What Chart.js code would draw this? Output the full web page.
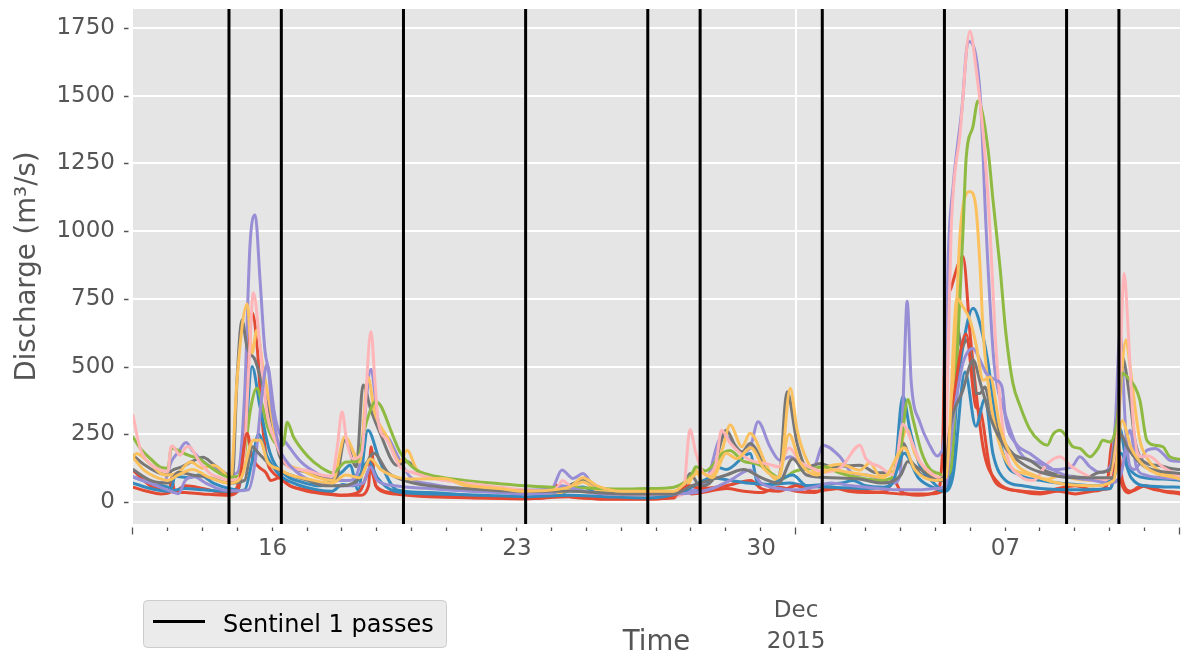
<!DOCTYPE html>
<html>
<head>
<meta charset="utf-8">
<script src="https://cdn.jsdelivr.net/npm/chart.js@4.4.0/dist/chart.umd.min.js"></script>
<style>
  html, body { margin: 0; padding: 0; background: #ffffff; }
  canvas { display: block; }
</style>
</head>
<body>
<canvas id="discharge" width="1181" height="654"></canvas>
<script>
// Time is counted in days from 12 Nov 2015 00:00; discharge in m3/s.

// Sentinel 1 overpass times (days)
const passDays = [2.75, 4.25, 7.75, 11.25, 14.75, 16.25, 19.75, 23.25, 26.75, 28.25];

// Axis ticks and labels
const yTickValues = [0, 250, 500, 750, 1000, 1250, 1500, 1750];
const xDayTicks = [0, 1, 2, 3, 4, 5, 6, 7, 8, 9, 10, 11, 12, 13, 14, 15, 16, 17, 18, 19, 20, 21, 22, 23, 24, 25, 26, 27, 28, 29, 30];
const dayLabelDays = [4, 11, 18, 25];
const dayLabels = ['16', '23', '30', '07'];
const monthStartDay = 19;
const monthLabel = ['Dec', '2015'];
const majorTickDays = [0, 19, 30];

// Discharge hydrographs, [day, m3/s]
const flowRed1 = [[0,55],[0.4,40],[0.8,30],[1.05,35],[1.1,90],[1.2,40],[1.5,60],[2.0,50],[2.5,35],[2.75,30],[3.0,60],[3.25,400],[3.41,700],[3.55,587],[3.7,300],[3.85,150],[4.0,110],[4.2,90],[4.5,60],[5.0,45],[5.5,35],[6.0,25],[6.5,25],[6.75,60],[6.82,204],[6.95,60],[7.5,35],[8.5,25],[9.5,18],[10.5,15],[11.2,12],[12.0,20],[12.12,62],[12.3,25],[13.5,12],[14.76,12],[15.5,15],[15.76,56],[16.0,30],[16.5,40],[17.0,50],[17.5,40],[18.0,35],[18.5,55],[19.0,40],[19.5,35],[20.0,55],[20.5,40],[21.0,35],[21.6,40],[21.78,84],[22.0,40],[22.5,25],[23.04,40],[23.2,200],[23.27,650],[23.44,790],[23.78,906],[24.0,600],[24.36,200],[24.73,80],[25.42,40],[26.0,30],[26.5,40],[27.0,30],[27.5,40],[27.9,60],[28.05,216],[28.2,222],[28.35,80],[28.6,40],[29.0,60],[29.5,40],[30,30]];
const flowBlue1 = [[0,93],[0.5,70],[1.0,55],[1.1,50],[1.2,95],[1.6,90],[1.9,100],[2.3,70],[2.75,50],[3.0,45],[3.2,200],[3.41,500],[3.64,351],[3.93,180],[4.36,100],[4.8,75],[5.36,60],[5.99,111],[6.22,136],[6.45,45],[6.73,265],[7.08,148],[7.56,45],[8.5,35],[9.66,25],[10.5,20],[11.23,15],[12.0,20],[12.89,56],[13.3,30],[14.0,20],[14.76,20],[15.5,25],[16.0,40],[16.4,60],[16.7,130],[17.0,120],[17.68,179],[17.91,68],[18.3,65],[18.8,70],[19.3,60],[19.8,65],[20.3,70],[20.63,80],[21.0,60],[21.5,55],[21.8,90],[22.06,391],[22.26,268],[22.55,133],[22.84,84],[23.27,40],[23.5,179],[23.61,401],[23.75,550],[24.07,715],[24.36,610],[24.5,512],[24.73,300],[25.0,150],[25.4,100],[26.0,80],[26.5,70],[27.0,65],[27.5,60],[28.0,80],[28.28,271],[28.45,160],[28.85,93],[29.5,85],[30,80]];
const flowPurple1 = [[0,93],[0.3,80],[0.6,70],[0.9,75],[1.1,150],[1.3,185],[1.52,220],[1.7,190],[2.0,150],[2.4,120],[2.75,100],[3.0,110],[3.2,400],[3.35,943],[3.5,1060],[3.64,820],[3.78,560],[3.9,480],[4.05,330],[4.2,254],[4.4,217],[4.8,150],[5.36,100],[5.8,80],[6.2,80],[6.5,140],[6.82,490],[7.02,302],[7.36,228],[7.65,154],[7.94,93],[8.6,65],[9.66,47],[10.5,42],[11.23,44],[12.0,50],[12.29,118],[12.61,87],[12.89,105],[13.2,60],[13.9,40],[14.76,35],[15.8,40],[16.3,60],[16.5,100],[16.8,230],[17.0,241],[17.25,204],[17.45,185],[17.68,200],[17.91,296],[18.25,204],[18.54,154],[18.83,167],[19.11,142],[19.5,130],[19.77,210],[20.26,167],[20.63,105],[21.0,100],[21.4,84],[21.78,70],[21.98,100],[22.1,500],[22.18,741],[22.3,440],[22.55,293],[22.84,207],[23.04,170],[23.15,182],[23.27,300],[23.35,871],[23.5,1166],[23.75,1450],[23.93,1700],[24.27,1510],[24.45,994],[24.64,563],[24.73,453],[25.01,317],[25.42,182],[25.99,142],[26.36,120],[26.9,130],[27.13,167],[27.42,130],[27.7,110],[28.0,130],[28.15,300],[28.28,623],[28.45,253],[28.57,130],[28.7,120],[29.05,191],[29.3,198],[29.5,180],[29.71,154],[30,150]];
const flowGray1 = [[0,173],[0.3,140],[0.7,110],[1.0,100],[1.1,115],[1.4,130],[1.7,150],[2.0,165],[2.3,140],[2.6,110],[2.85,95],[2.98,450],[3.12,672],[3.27,570],[3.5,524],[3.72,425],[4.01,277],[4.21,167],[4.5,130],[5.0,110],[5.5,85],[5.8,80],[6.07,228],[6.4,130],[6.59,432],[6.82,339],[7.08,254],[7.56,136],[7.85,150],[8.2,110],[8.88,88],[9.66,60],[10.5,45],[11.23,40],[12.0,35],[12.4,55],[12.89,80],[13.2,50],[14.0,30],[15.0,28],[15.8,60],[15.96,105],[16.25,60],[16.6,80],[16.8,200],[17.0,265],[17.25,210],[17.45,185],[17.68,216],[18.17,118],[18.5,80],[18.74,407],[19.03,216],[19.31,130],[19.7,142],[20.0,130],[20.83,136],[21.3,108],[21.7,110],[21.98,140],[22.06,219],[22.3,150],[22.7,110],[23.1,80],[23.27,80],[23.5,400],[23.61,647],[23.75,570],[23.87,598],[23.98,561],[24.07,487],[24.15,401],[24.27,401],[24.41,425],[24.56,351],[24.84,253],[25.21,179],[25.7,154],[26.1,118],[26.5,100],[26.9,95],[27.3,90],[27.7,110],[28.0,120],[28.2,300],[28.34,536],[28.57,376],[28.71,228],[29.05,142],[29.4,135],[29.7,125],[30,120]];
const flowYellow1 = [[0,165],[0.1,179],[0.5,140],[0.8,105],[1.0,100],[1.3,110],[1.65,148],[2.0,125],[2.3,136],[2.6,110],[2.8,80],[2.98,450],[3.27,731],[3.41,550],[3.55,635],[3.72,500],[3.93,351],[4.1,228],[4.36,150],[4.8,120],[5.3,90],[5.73,80],[6.07,241],[6.5,148],[6.73,462],[6.93,328],[7.28,241],[7.65,148],[7.85,191],[8.14,118],[8.5,95],[8.88,90],[9.1,80],[9.66,56],[10.5,45],[11.23,31],[12.0,30],[12.5,45],[12.89,74],[13.3,45],[13.95,37],[14.76,35],[15.5,35],[15.9,60],[16.13,118],[16.3,80],[16.6,100],[16.88,191],[17.11,284],[17.45,204],[17.68,254],[18.17,130],[18.45,80],[18.6,150],[18.83,420],[19.03,265],[19.31,154],[19.6,105],[19.89,130],[20.26,140],[20.83,118],[21.12,145],[21.4,96],[21.78,110],[22.18,268],[22.4,180],[22.8,110],[23.1,90],[23.27,80],[23.5,400],[23.7,994],[23.98,1146],[24.15,1090],[24.27,871],[24.36,625],[24.5,440],[24.64,317],[25.01,154],[25.7,100],[26.2,84],[26.6,100],[27.0,85],[27.6,80],[28.0,90],[28.2,250],[28.45,598],[28.57,500],[28.71,351],[28.85,228],[29.1,154],[29.55,105],[30,93]];
const flowGreen = [[0,240],[0.2,200],[0.5,160],[0.8,128],[1.0,125],[1.1,200],[1.3,190],[1.6,172],[1.9,160],[2.2,130],[2.5,105],[2.75,92],[3.0,95],[3.2,180],[3.35,330],[3.55,420],[3.7,360],[3.85,280],[4.1,215],[4.3,210],[4.42,295],[4.6,240],[5.0,170],[5.36,130],[5.73,108],[6.1,148],[6.4,150],[6.7,300],[6.95,370],[7.1,355],[7.4,260],[7.65,185],[8.1,120],[8.5,100],[9.5,80],[10.5,68],[11.2,60],[12.0,55],[13.0,52],[14.0,48],[14.76,50],[15.5,55],[16.0,100],[16.13,130],[16.4,115],[16.9,180],[17.1,190],[17.5,150],[17.9,140],[18.3,105],[18.6,85],[18.9,110],[19.1,118],[19.5,125],[19.8,130],[20.2,110],[20.6,95],[21.0,85],[21.4,80],[21.8,95],[22.0,200],[22.2,379],[22.35,305],[22.6,182],[22.84,121],[23.1,105],[23.27,95],[23.45,130],[23.6,502],[23.78,994],[23.87,1264],[24.07,1387],[24.21,1480],[24.5,1301],[24.64,1116],[24.84,871],[25.01,625],[25.21,440],[25.42,354],[25.7,268],[26.0,222],[26.2,210],[26.36,250],[26.56,265],[26.7,250],[26.93,204],[27.13,198],[27.42,167],[27.65,198],[27.79,228],[27.99,222],[28.2,300],[28.34,475],[28.57,450],[28.71,425],[28.85,376],[29.05,228],[29.28,210],[29.51,204],[29.71,167],[30,158]];
const flowPink = [[0,320],[0.2,200],[0.5,140],[0.8,118],[1.0,112],[1.08,200],[1.12,207],[1.35,173],[1.5,200],[1.6,205],[1.9,150],[2.21,106],[2.5,90],[2.75,80],[3.0,85],[3.2,200],[3.32,500],[3.45,773],[3.64,573],[3.84,328],[4.1,217],[4.45,130],[4.9,118],[5.4,100],[5.7,95],[5.85,200],[5.99,333],[6.12,228],[6.3,160],[6.55,180],[6.82,629],[6.93,450],[7.02,302],[7.28,228],[7.65,130],[8.0,110],[8.5,90],[9.5,70],[10.5,55],[11.2,45],[12.0,40],[12.2,60],[12.3,80],[12.6,50],[13.5,30],[14.5,25],[15.5,22],[15.76,30],[15.96,268],[16.13,180],[16.4,100],[16.7,140],[16.86,265],[17.1,220],[17.4,180],[17.7,154],[18.2,140],[18.5,130],[18.8,200],[19.1,150],[19.6,118],[19.8,110],[20.3,130],[20.83,210],[21.0,160],[21.4,130],[21.8,100],[22.06,287],[22.26,240],[22.55,150],[22.84,110],[23.1,90],[23.2,90],[23.3,250],[23.44,994],[23.7,1362],[23.98,1738],[24.15,1608],[24.36,1362],[24.56,994],[24.7,625],[24.84,379],[25.01,194],[25.42,96],[25.8,80],[26.2,142],[26.56,167],[26.9,130],[27.3,100],[27.7,80],[28.0,90],[28.22,253],[28.4,844],[28.52,622],[28.62,376],[28.71,228],[28.9,167],[29.1,170],[29.5,130],[30,93]];
const flowRed2 = [[0,118],[0.5,60],[1.0,40],[1.5,35],[2.0,30],[2.75,25],[3.0,40],[3.27,254],[3.41,167],[3.6,130],[3.8,110],[3.95,80],[4.2,90],[4.5,60],[5.0,40],[5.5,30],[6.0,25],[6.5,40],[6.8,120],[7.0,50],[7.5,30],[8.5,20],[10.0,15],[11.23,12],[12.5,20],[13.5,10],[14.76,10],[15.5,20],[15.9,60],[16.3,50],[17.0,60],[17.7,80],[18.0,50],[18.5,40],[19.0,60],[19.5,40],[20.3,50],[21.0,40],[21.5,35],[22.0,30],[22.8,30],[23.2,40],[23.44,300],[23.87,620],[24.15,351],[24.27,340],[24.56,120],[25.0,50],[25.5,40],[26.0,35],[26.5,50],[27.0,60],[27.5,45],[28.0,50],[28.2,150],[28.3,80],[28.5,34],[28.9,59],[29.3,45],[30,35]];
const flowBlue2 = [[0,70],[0.5,50],[1.0,40],[1.5,50],[2.0,45],[2.75,40],[3.2,45],[3.4,143],[3.6,250],[3.8,180],[4.2,100],[4.6,70],[5.3,45],[5.7,40],[6.0,65],[6.3,60],[6.75,150],[7.0,90],[7.5,40],[8.5,30],[10.0,25],[11.23,20],[12.5,25],[13.5,20],[14.76,15],[15.8,40],[16.2,70],[16.6,90],[17.1,80],[17.6,70],[18.2,65],[18.9,100],[19.3,60],[20.0,55],[21.0,50],[21.7,60],[22.1,180],[22.5,90],[23.0,50],[23.27,40],[23.5,100],[23.84,480],[24.15,280],[24.41,380],[24.64,179],[25.0,80],[25.5,60],[26.0,50],[27.0,45],[28.0,50],[28.3,180],[28.6,90],[29.0,60],[30,55]];
const flowPurple2 = [[0,93],[0.5,69],[1.0,44],[1.3,31],[1.5,80],[1.75,93],[2.1,69],[2.6,44],[3.0,42],[3.3,45],[3.5,150],[3.7,400],[3.84,510],[4.0,330],[4.2,200],[4.4,150],[4.8,100],[5.3,70],[6.0,60],[6.6,70],[6.8,130],[7.0,80],[7.5,60],[8.5,50],[9.66,40],[10.5,35],[11.2,30],[12.1,35],[12.3,60],[12.6,50],[13.5,30],[14.76,30],[15.5,30],[16.13,35],[16.6,50],[17.11,80],[17.68,118],[18.0,70],[18.5,50],[19.0,45],[19.5,55],[20.0,70],[20.6,60],[21.4,50],[22.0,45],[22.5,45],[23.0,50],[23.27,56],[23.5,302],[23.78,512],[24.07,567],[24.27,524],[24.45,475],[24.73,450],[24.9,425],[25.01,302],[25.3,216],[25.7,179],[26.1,142],[26.5,110],[27.0,90],[27.5,80],[28.0,70],[28.3,100],[28.57,265],[28.75,130],[29.0,100],[29.5,90],[30,85]];
const flowGray2 = [[0,120],[0.5,80],[1.0,70],[1.3,110],[1.7,100],[2.2,90],[2.75,70],[3.2,80],[3.41,204],[3.6,180],[4.0,130],[4.5,100],[5.0,80],[5.5,60],[6.0,60],[6.5,90],[6.9,180],[7.3,110],[7.9,75],[8.5,60],[9.5,50],[11.0,40],[12.5,40],[14.0,30],[15.5,30],[16.0,60],[16.5,80],[17.0,100],[17.5,120],[18.0,90],[18.5,70],[18.9,160],[19.3,100],[20.0,90],[20.8,85],[21.5,70],[22.0,100],[22.2,150],[22.6,100],[23.0,80],[23.27,100],[23.4,265],[23.78,413],[24.07,524],[24.3,430],[24.6,300],[25.0,200],[25.5,140],[26.0,110],[27.0,90],[28.1,90],[28.3,250],[28.5,200],[29.0,130],[30,105]];
const flowYellow2 = [[0,165],[0.3,120],[0.7,90],[1.0,80],[1.3,100],[1.7,120],[2.2,90],[2.75,70],[3.1,90],[3.45,228],[3.64,228],[3.85,150],[4.2,120],[4.5,100],[5.0,85],[5.7,70],[6.1,100],[6.5,90],[6.8,160],[7.1,120],[7.6,90],[8.0,85],[8.88,87],[9.66,60],[10.5,50],[11.23,40],[12.5,55],[12.89,90],[13.3,60],[14.0,40],[14.76,40],[15.5,40],[15.9,80],[16.25,110],[16.6,90],[17.0,180],[17.3,160],[17.7,200],[18.1,120],[18.5,90],[18.8,250],[19.1,150],[19.6,100],[20.0,120],[20.5,110],[21.0,100],[21.5,90],[22.1,200],[22.4,120],[23.0,80],[23.3,90],[23.61,752],[23.78,721],[23.98,672],[24.15,586],[24.36,450],[24.56,462],[24.84,277],[25.3,142],[25.8,100],[26.5,70],[27.5,60],[28.1,80],[28.34,300],[28.6,200],[29.0,130],[30,85]];

const seriesList = [
  { data: flowRed1,    color: '#E24A33' },
  { data: flowBlue1,   color: '#348ABD' },
  { data: flowPurple1, color: '#988ED5' },
  { data: flowGray1,   color: '#777777' },
  { data: flowYellow1, color: '#FBC15E' },
  { data: flowGreen,   color: '#8EBA42' },
  { data: flowPink,    color: '#FFB5B8' },
  { data: flowRed2,    color: '#E24A33' },
  { data: flowBlue2,   color: '#348ABD' },
  { data: flowPurple2, color: '#988ED5' },
  { data: flowGray2,   color: '#777777' },
  { data: flowYellow2, color: '#FBC15E' }
];

const Y_MIN = -81, Y_MAX = 1820;
const FONT = 'DejaVu Sans';
const TICK_GREY = '#555555';

// later series are drawn on top of earlier ones
const flowDatasets = seriesList.map((s, i) => ({
  data: s.data.map(([x, y]) => ({ x, y })),
  borderColor: s.color,
  borderWidth: 3,
  borderJoinStyle: 'round',
  borderCapStyle: 'round',
  pointRadius: 0,
  fill: false,
  cubicInterpolationMode: 'monotone',
  order: seriesList.length - i + 1
}));

// one vertical line per overpass, separated by gaps
const passPoints = [];
passDays.forEach(d => {
  passPoints.push({ x: d, y: Y_MIN }, { x: d, y: Y_MAX }, { x: d, y: null });
});
const passDataset = {
  label: 'Sentinel 1 passes',
  isPassLine: true,
  data: passPoints,
  borderColor: '#000000',
  borderWidth: 3,
  pointRadius: 0,
  spanGaps: false,
  tension: 0,
  order: 0
};

const panelBackground = {
  id: 'panelBackground',
  beforeDraw(chart) {
    const { ctx, chartArea: a } = chart;
    ctx.save();
    ctx.fillStyle = '#ffffff';
    ctx.fillRect(0, 0, chart.width, chart.height);
    ctx.fillStyle = '#E5E5E5';
    ctx.fillRect(a.left, a.top, a.right - a.left, a.bottom - a.top);
    ctx.restore();
  }
};

// short outward tick marks, set slightly off the panel edge
const tickMarks = {
  id: 'tickMarks',
  afterDraw(chart) {
    const { ctx, chartArea: a, scales: { x, y } } = chart;
    ctx.save();
    ctx.strokeStyle = TICK_GREY;
    ctx.lineWidth = 1.3;
    ctx.beginPath();
    yTickValues.forEach(v => {
      const py = Math.round(y.getPixelForValue(v)) + 0.5;
      ctx.moveTo(a.left - 9, py);
      ctx.lineTo(a.left - 4.5, py);
    });
    xDayTicks.forEach(d => {
      const px = Math.round(x.getPixelForValue(d)) - 0.5;
      const len = majorTickDays.includes(d) ? 7 : 3.5;
      ctx.moveTo(px, a.bottom + 3.5);
      ctx.lineTo(px, a.bottom + 3.5 + len);
    });
    ctx.stroke();
    ctx.restore();
  }
};

const passLegend = {
  id: 'passLegend',
  afterDraw(chart) {
    const { ctx } = chart;
    const ds = chart.data.datasets.find(d => d.isPassLine);
    ctx.save();
    ctx.beginPath();
    ctx.roundRect(143.5, 600.5, 303, 47, 4);
    ctx.fillStyle = '#EBEBEB';
    ctx.fill();
    ctx.strokeStyle = '#CCCCCC';
    ctx.lineWidth = 1;
    ctx.stroke();
    ctx.beginPath();
    ctx.moveTo(153, 621.5);
    ctx.lineTo(205, 621.5);
    ctx.strokeStyle = ds.borderColor;
    ctx.lineWidth = ds.borderWidth;
    ctx.stroke();
    ctx.font = '24px "' + FONT + '"';
    ctx.fillStyle = '#000000';
    ctx.textBaseline = 'alphabetic';
    ctx.textAlign = 'left';
    ctx.fillText(ds.label, 223, 631.5);
    ctx.restore();
  }
};

new Chart(document.getElementById('discharge'), {
  type: 'line',
  data: { datasets: [...flowDatasets, passDataset] },
  options: {
    responsive: false,
    animation: false,
    devicePixelRatio: 1,
    layout: { padding: { top: 9, right: 1, bottom: 0, left: 0 } },
    plugins: { legend: { display: false }, tooltip: { enabled: false } },
    scales: {
      x: {
        type: 'linear',
        min: 0,
        max: 30,
        afterBuildTicks: s => { s.ticks = xDayTicks.map(v => ({ value: v })); },
        afterFit: s => { s.height = 130; s.paddingLeft = 0; s.paddingRight = 0; },
        border: { display: false },
        grid: {
          drawTicks: false,
          lineWidth: 2,
          color: c => (c.tick && c.tick.value === monthStartDay) ? '#FFFFFF' : 'rgba(0,0,0,0)'
        },
        ticks: {
          autoSkip: false,
          maxRotation: 0,
          minRotation: 0,
          padding: 10,
          color: TICK_GREY,
          font: { family: FONT, size: 23, lineHeight: '31px' },
          callback: v => {
            if (v === monthStartDay) return ['', '', ...monthLabel];
            const i = dayLabelDays.indexOf(v);
            return i >= 0 ? dayLabels[i] : '';
          }
        },
        title: {
          display: true,
          text: 'Time',
          color: TICK_GREY,
          padding: 0,
          font: { family: FONT, size: 27.6, lineHeight: 0.8 }
        }
      },
      y: {
        min: Y_MIN,
        max: Y_MAX,
        afterBuildTicks: s => { s.ticks = yTickValues.map(v => ({ value: v })); },
        afterFit: s => { s.width = 133; s.paddingTop = 0; s.paddingBottom = 0; },
        border: { display: false },
        grid: { drawTicks: false, lineWidth: 2, color: '#FFFFFF' },
        ticks: {
          padding: 18,
          color: TICK_GREY,
          font: { family: FONT, size: 23 },
          callback: v => String(v)
        },
        title: {
          display: true,
          text: 'Discharge (m³/s)',
          color: TICK_GREY,
          padding: { top: 11, bottom: 0 },
          font: { family: FONT, size: 27.6 }
        }
      }
    }
  },
  plugins: [panelBackground, tickMarks, passLegend]
});
</script>
</body>
</html>
